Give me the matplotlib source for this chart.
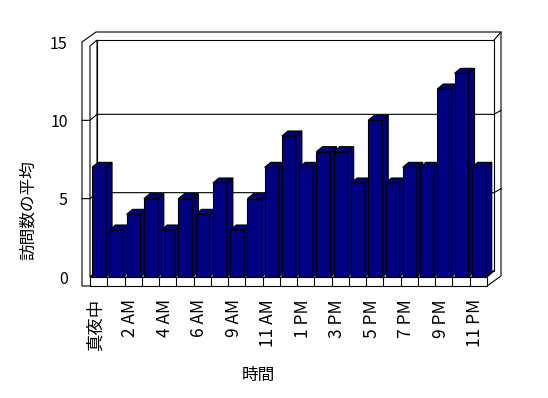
import matplotlib
matplotlib.use("Agg")
import matplotlib.pyplot as plt
from matplotlib.patches import Polygon, Rectangle

plt.rcParams["font.family"] = ["Noto Sans CJK JP", "DejaVu Sans"]
plt.rcParams["font.size"] = 11

# data
hours = ["真夜中", "1 AM", "2 AM", "3 AM", "4 AM", "5 AM", "6 AM", "7 AM", "9 AM",
         "10 AM", "11 AM", "正午", "1 PM", "2 PM", "3 PM", "4 PM", "5 PM", "6 PM",
         "7 PM", "8 PM", "9 PM", "10 PM", "11 PM"]
visits = [7, 3, 4, 5, 3, 5, 4, 6, 3, 5, 7, 9, 7, 8, 8, 6, 10, 6, 7, 7, 12, 13, 7]
yticks = [0, 5, 10, 15]
xlabel = "時間"
ylabel = "訪問数の平均"

navy = "#000080"
W, H = 548, 398
fig = plt.figure(figsize=(W / 100, H / 100), dpi=100)
fig.patch.set_facecolor("white")

# front plane of the 3d box, in pixels
px_l, px_r, px_b, px_t = 90, 487, 277, 42
ax = fig.add_axes([px_l / W, (H - px_b) / H, (px_r - px_l) / W, (px_b - px_t) / H])
n = len(visits)
ymax = 15
ax.set_xlim(0, n)
ax.set_ylim(0, ymax)
ax.set_facecolor("none")
for s in ax.spines.values():
    s.set_visible(False)

ux = (px_r - px_l) / n
uy = (px_b - px_t) / ymax

# depth offsets converted to data units
dxw, dyw = 7 / ux, 6 / uy      # front plane -> back wall face
dxt, dyt = 14 / ux, 10 / uy    # front plane -> outside of back wall
tw = 8 / ux                    # left wall thickness
tf = 9 / uy                    # floor thickness
top_in = ymax - 4 / uy
bx, by = 6 / ux, 5 / uy        # bar depth

lw = 0.8
kw = dict(clip_on=False, lw=lw, edgecolor="black")

# outline of the whole box
outer = [(-tw, -tf), (n, -tf), (n + dxt, -tf + dyt), (n + dxt, ymax + dyt),
         (-tw + dxt, ymax + dyt), (-tw, ymax)]
ax.add_patch(Polygon(outer, closed=True, facecolor="white", zorder=1, **kw))
# back wall face
ax.add_patch(Rectangle((dxw, dyw), n, top_in, facecolor="white", zorder=2, **kw))
ax.plot([n + dxw, n + dxt], [top_in + dyw, ymax + dyt], color="black", lw=lw, clip_on=False, zorder=2)
# left wall inner face
ax.add_patch(Polygon([(0, 0), (0, top_in), (dxw, top_in + dyw), (dxw, dyw)], closed=True,
                     facecolor="white", zorder=3, **kw))
# gridlines
for g in yticks[1:-1]:
    ax.plot([-tw, 0, dxw, n + dxw, n + dxt], [g, g, g + dyw, g + dyw, g + dyt],
            color="black", lw=lw, clip_on=False, zorder=3)
# floor
ax.add_patch(Polygon([(0, 0), (n, 0), (n + dxw, dyw), (dxw, dyw)], closed=True,
                     facecolor="white", zorder=4, **kw))
ax.add_patch(Rectangle((0, -tf), n, tf, facecolor="white", zorder=4, **kw))
for i in range(1, n):
    ax.plot([i, i], [-tf, 0], color="black", lw=lw, clip_on=False, zorder=4)

# bars
bw = 0.81
bars = ax.bar([i + 0.12 for i in range(n)], visits, width=bw, align="edge",
              color=navy, edgecolor="black", linewidth=lw)
for i, (p, v) in enumerate(zip(bars, visits)):
    x0 = i + 0.12
    x1 = x0 + bw
    p.set_zorder(10 + i)
    side = [(x1, 0), (x1 + bx, by), (x1 + bx, v + by), (x1, v)]
    top = [(x0, v), (x1, v), (x1 + bx, v + by), (x0 + bx, v + by)]
    ax.add_patch(Polygon(side, closed=True, facecolor=navy, zorder=10 + i, **kw))
    ax.add_patch(Polygon(top, closed=True, facecolor=navy, zorder=10 + i, **kw))

ax.set_yticks(yticks)
ax.set_yticklabels([str(t) for t in yticks], fontsize=11.5)
ax.set_xticks([i + 0.5 - 3 / ux for i in range(0, n, 2)])
ax.set_xticklabels(hours[::2], rotation=90, fontsize=12.5)
ax.tick_params(axis="y", length=0, pad=16)
ax.tick_params(axis="x", length=0, pad=16)

fig.text(28 / W, 1 - 210 / H, ylabel, rotation=90, ha="center", va="center", fontsize=12)
fig.text(258 / W, 1 - 375 / H, xlabel, ha="center", va="center", fontsize=12)

plt.savefig("out.png", dpi=100)
